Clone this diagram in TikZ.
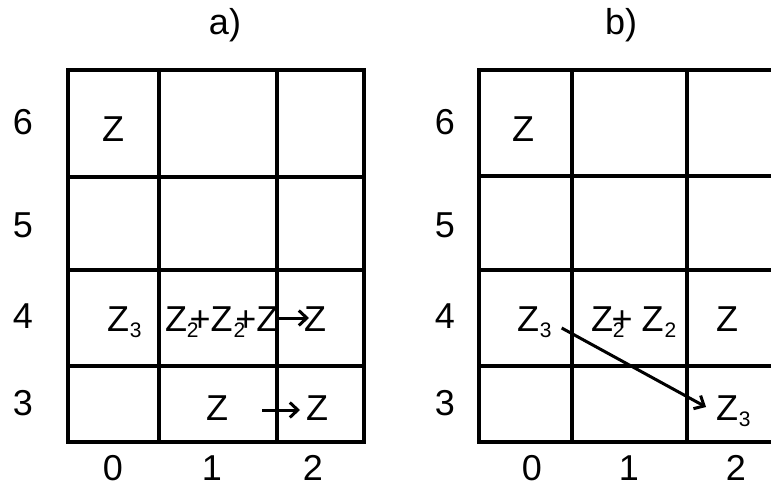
\documentclass[tikz,border=0pt]{standalone}
\usepackage{fontspec}
\setmainfont{Liberation Sans}
\usetikzlibrary{arrows.meta}
\newcommand{\zsub}[1]{\raisebox{-6pt}{\fontsize{21pt}{23pt}\selectfont #1}}
\tikzset{
  gridline/.style={line width=3.2pt, line cap=rect},
  lbl/.style={inner sep=0pt, outer sep=0pt, font=\fontsize{36pt}{40pt}\selectfont},
  arr/.style={line width=3pt, -{Straight Barb[length=8pt,width=15pt,line width=3pt]}},
}
\begin{document}
\begin{tikzpicture}[x=1pt,y=-1pt]
\useasboundingbox (0,0) rectangle (771,489);
% grid a
\draw[gridline] (68,70) rectangle (364,442);
\foreach \yy in {177,270,366} \draw[gridline] (68,\yy) -- (364,\yy);
\foreach \xx in {159,277} \draw[gridline] (\xx,74) -- (\xx,442);
% grid b
\draw[gridline] (771,70) -- (479,70) -- (479,442) -- (771,442);
\foreach \yy in {176,270,366} \draw[gridline] (479,\yy) -- (771,\yy);
\foreach \xx in {572,687} \draw[gridline] (\xx,74) -- (\xx,442);
% titles
\node[lbl, anchor=base] (ta) at (225,35) {a)};
\node[lbl, anchor=base] (tb) at (621,35) {b)};
% row labels a
\node[lbl, anchor=base] (ra6) at (23,135) {6};
\node[lbl, anchor=base] (ra5) at (23,237) {5};
\node[lbl, anchor=base] (ra4) at (23,328) {4};
\node[lbl, anchor=base] (ra3) at (23,415) {3};
% row labels b
\node[lbl, anchor=base] (rb6) at (445,135) {6};
\node[lbl, anchor=base] (rb5) at (445,237) {5};
\node[lbl, anchor=base] (rb4) at (445,328) {4};
\node[lbl, anchor=base] (rb3) at (445,415) {3};
% column labels
\node[lbl, anchor=base] (ca0) at (113,480) {0};
\node[lbl, anchor=base] (ca1) at (212,480) {1};
\node[lbl, anchor=base] (ca2) at (313,480) {2};
\node[lbl, anchor=base] (cb0) at (532,480) {0};
\node[lbl, anchor=base] (cb1) at (629,480) {1};
\node[lbl, anchor=base] (cb2) at (736,480) {2};
% cells a
\node[lbl, anchor=base west] (a6z) at (102,142) {Z};
\node[lbl, anchor=base west] (a4z3) at (107,331) {Z\kern1pt\zsub{3}};
\node[lbl, anchor=base west] (a4mid) at (165,331) {Z\zsub{2}\kern-9pt+Z\kern1pt\zsub{2}\kern-10pt+Z};
\node[lbl, anchor=base west] (a4z) at (304,331) {Z};
\node[lbl, anchor=base west] (a3z1) at (206,420) {Z};
\node[lbl, anchor=base west] (a3z2) at (306,420) {Z};
\coordinate (a3s) at (262,410);
\draw[arr, shorten <=-2pt, shorten >=-5pt] ([yshift=13pt]a4mid.base east) -- ([yshift=13pt]a4z.base west);
\draw[arr, shorten >=6pt] (a3s) -- ([yshift=10pt]a3z2.base west);
% cells b
\node[lbl, anchor=base west] (b6z) at (512,142) {Z};
\node[lbl, anchor=base west] (b4z3) at (517,331) {Z\kern1pt\zsub{3}};
\node[lbl, anchor=base west] (b4mid) at (591,331) {Z\zsub{2}\kern-13pt+\kern9pt Z\kern1pt\zsub{2}};
\node[lbl, anchor=base west] (b4z) at (716,331) {Z};
\node[lbl, anchor=base west] (b3z3) at (716,420) {Z\kern1pt\zsub{3}};
\draw[arr] ([xshift=10pt,yshift=3pt]b4z3.base east) -- ([xshift=-10pt,yshift=13pt]b3z3.base west);
\end{tikzpicture}
\end{document}
